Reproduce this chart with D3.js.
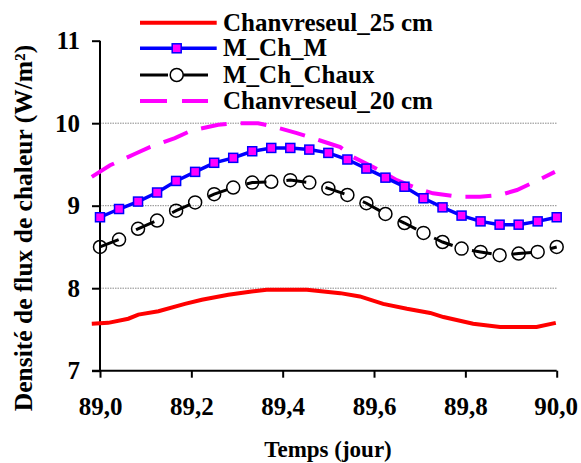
<!DOCTYPE html>
<html><head><meta charset="utf-8">
<script src="https://cdn.jsdelivr.net/npm/d3@7"></script>
<style>body{margin:0;background:#fff}svg{display:block}</style>
</head><body><svg id="c" width="581" height="463"></svg>
<script>
// ---- data ----
const seriesNames = ["Chanvreseul_25 cm","M_Ch_M","M_Ch_Chaux","Chanvreseul_20 cm"];
const xTicks = [89.0, 89.2, 89.4, 89.6, 89.8, 90.0];
const xTickLabels = ["89,0","89,2","89,4","89,6","89,8","90,0"];
const yTicks = [7, 8, 9, 10, 11];
const yTickLabels = ["7","8","9","10","11"];
const gridValues = [8, 9, 10];

const redX = [88.982,89.018,89.062,89.084,89.128,89.186,89.223,89.281,89.332,89.365,89.453,89.526,89.569,89.620,89.672,89.723,89.752,89.817,89.876,89.956,89.998];
const redY = [7.57,7.58,7.63,7.68,7.72,7.81,7.86,7.92,7.96,7.98,7.98,7.94,7.90,7.81,7.75,7.70,7.65,7.57,7.53,7.53,7.58];

const hourX = [89.0,89.0417,89.0833,89.125,89.1667,89.2083,89.25,89.2917,89.3333,89.375,89.4167,89.4583,89.5,89.5417,89.5833,89.625,89.6667,89.7083,89.75,89.7917,89.8333,89.875,89.9167,89.9583,90.0];
const blueY = [8.86,8.96,9.05,9.16,9.30,9.41,9.52,9.58,9.66,9.70,9.70,9.68,9.64,9.56,9.45,9.34,9.23,9.09,8.98,8.88,8.81,8.77,8.77,8.81,8.86];
const blackY = [8.50,8.59,8.72,8.82,8.94,9.04,9.14,9.22,9.28,9.29,9.31,9.28,9.21,9.13,9.03,8.90,8.79,8.67,8.56,8.48,8.44,8.40,8.42,8.44,8.50];

const magX = [88.982,89.022,89.077,89.109,89.164,89.200,89.259,89.291,89.346,89.379,89.431,89.482,89.526,89.554,89.598,89.650,89.694,89.729,89.782,89.832,89.876,89.913,89.960,89.996];
const magY = [9.35,9.49,9.63,9.71,9.82,9.91,9.98,10.0,10.0,9.96,9.88,9.79,9.71,9.59,9.47,9.31,9.21,9.15,9.11,9.11,9.13,9.19,9.31,9.41];

// ---- drawing ----
const FONT = "'Liberation Serif', 'Times New Roman', Times, serif";
const svg = d3.select("#c");
const x = d3.scaleLinear().domain([89, 90]).range([100, 556.7]);
const y = d3.scaleLinear().domain([7, 11]).range([370.7, 40.7]);

// grid
svg.append("g").selectAll("line").data(gridValues).join("line")
  .attr("x1", x(89)).attr("x2", x(90)).attr("y1", d => y(d)).attr("y2", d => y(d))
  .attr("stroke", "#8a8a8a").attr("stroke-width", 1).attr("stroke-dasharray", "1.5,1");

// axes
const yAxis = d3.axisLeft(y).tickValues(yTicks).tickFormat((d, i) => yTickLabels[i]).tickSize(8).tickPadding(12);
const gy = svg.append("g").attr("transform", `translate(${x(89)},0)`).call(yAxis);
const xAxis = d3.axisBottom(x).tickValues(xTicks).tickFormat((d, i) => xTickLabels[i]).tickSize(7).tickPadding(20);
const gx = svg.append("g").attr("transform", `translate(0,${y(7)})`).call(xAxis);
[gx, gy].forEach(g => {
  g.attr("font-family", null).attr("font-size", null);
  g.select(".domain").attr("stroke", "#000").attr("stroke-width", 2);
  g.selectAll(".tick line").attr("stroke", "#000").attr("stroke-width", 2);
  g.selectAll("text").attr("fill", "#000")
    .style("font-family", FONT).style("font-weight", "bold").style("font-size", "25px");
});
gx.select(".domain").attr("d", `M${x(89) - 8},0H${x(90)}`);
gy.select(".domain").attr("d", `M0,${y(11)}V${y(7)}`);
gy.selectAll("text").attr("dy", "0.33em");
// keep last x label inside the picture
gx.selectAll(".tick text").each(function () {
  const b = this.getBBox(); const t = d3.select(this.parentNode).attr("transform");
  const tx = +t.match(/translate\(([-\d.]+)/)[1];
  if (tx + b.x + b.width > 578) d3.select(this).attr("x", 578 - (tx + b.x + b.width));
});

// axis titles
const txt = sel => sel.style("font-family", FONT).style("font-weight", "bold").attr("fill", "#000");
svg.append("text").attr("x", 328).attr("y", 457).attr("text-anchor", "middle")
  .style("font-size", "23px").call(txt).text("Temps (jour)");
svg.append("text").attr("transform", "translate(32,228) rotate(-90)").attr("text-anchor", "middle")
  .style("font-size", "25.5px").call(txt).text("Densité de flux de chaleur (W/m²)");

// series
const line = d3.line().x(d => x(d[0])).y(d => y(d[1]));
const red = redX.map((v, i) => [v, redY[i]]);
const mag = magX.map((v, i) => [v, magY[i]]);
const blue = hourX.map((v, i) => [v, blueY[i]]);
const black = hourX.map((v, i) => [v, blackY[i]]);

svg.append("path").attr("d", line(red)).attr("fill", "none").attr("stroke", "#ff0000").attr("stroke-width", 4);
svg.append("path").attr("d", line(mag)).attr("fill", "none").attr("stroke", "#ff00ff").attr("stroke-width", 4).attr("stroke-dasharray", "26,14");
svg.append("path").attr("d", line(blue)).attr("fill", "none").attr("stroke", "#0000ff").attr("stroke-width", 3.5);
svg.append("g").selectAll("rect").data(blue).join("rect")
  .attr("x", d => x(d[0]) - 4.5).attr("y", d => y(d[1]) - 4.5).attr("width", 9).attr("height", 9)
  .attr("fill", "#ff00ff").attr("stroke", "#0000ff").attr("stroke-width", 1.5);
svg.append("g").selectAll("circle").data(black).join("circle")
  .attr("cx", d => x(d[0])).attr("cy", d => y(d[1])).attr("r", 6.5)
  .attr("fill", "none").attr("stroke", "#000").attr("stroke-width", 1.5);
svg.append("path").attr("d", line(black)).attr("fill", "none").attr("stroke", "#000").attr("stroke-width", 3).attr("stroke-dasharray", "20,20");

// legend
const lg = svg.append("g");
const rows = [22.7, 48.3, 75, 101];
const lx0 = 140, lx1 = 216.7, lmid = 176.7;
lg.append("line").attr("x1", lx0).attr("x2", lx1).attr("y1", rows[0]).attr("y2", rows[0]).attr("stroke", "#ff0000").attr("stroke-width", 4);
lg.append("line").attr("x1", lx0).attr("x2", lx1).attr("y1", rows[1]).attr("y2", rows[1]).attr("stroke", "#0000ff").attr("stroke-width", 3.5);
lg.append("rect").attr("x", lmid - 4.5).attr("y", rows[1] - 4.5).attr("width", 9).attr("height", 9).attr("fill", "#ff00ff").attr("stroke", "#0000ff").attr("stroke-width", 1.5);
lg.append("line").attr("x1", lx0).attr("x2", 208).attr("y1", rows[2]).attr("y2", rows[2]).attr("stroke", "#000").attr("stroke-width", 3).attr("stroke-dasharray", "28,15");
lg.append("circle").attr("cx", lmid).attr("cy", rows[2]).attr("r", 6.5).attr("fill", "#fff").attr("stroke", "#000").attr("stroke-width", 1.5);
lg.append("line").attr("x1", lx0).attr("x2", 208).attr("y1", rows[3]).attr("y2", rows[3]).attr("stroke", "#ff00ff").attr("stroke-width", 4).attr("stroke-dasharray", "27,15");
lg.selectAll("text").data(seriesNames).join("text")
  .attr("x", 223).attr("y", (d, i) => rows[i] + 8).style("font-size", "25px").call(txt).text(d => d);
</script></body></html>
